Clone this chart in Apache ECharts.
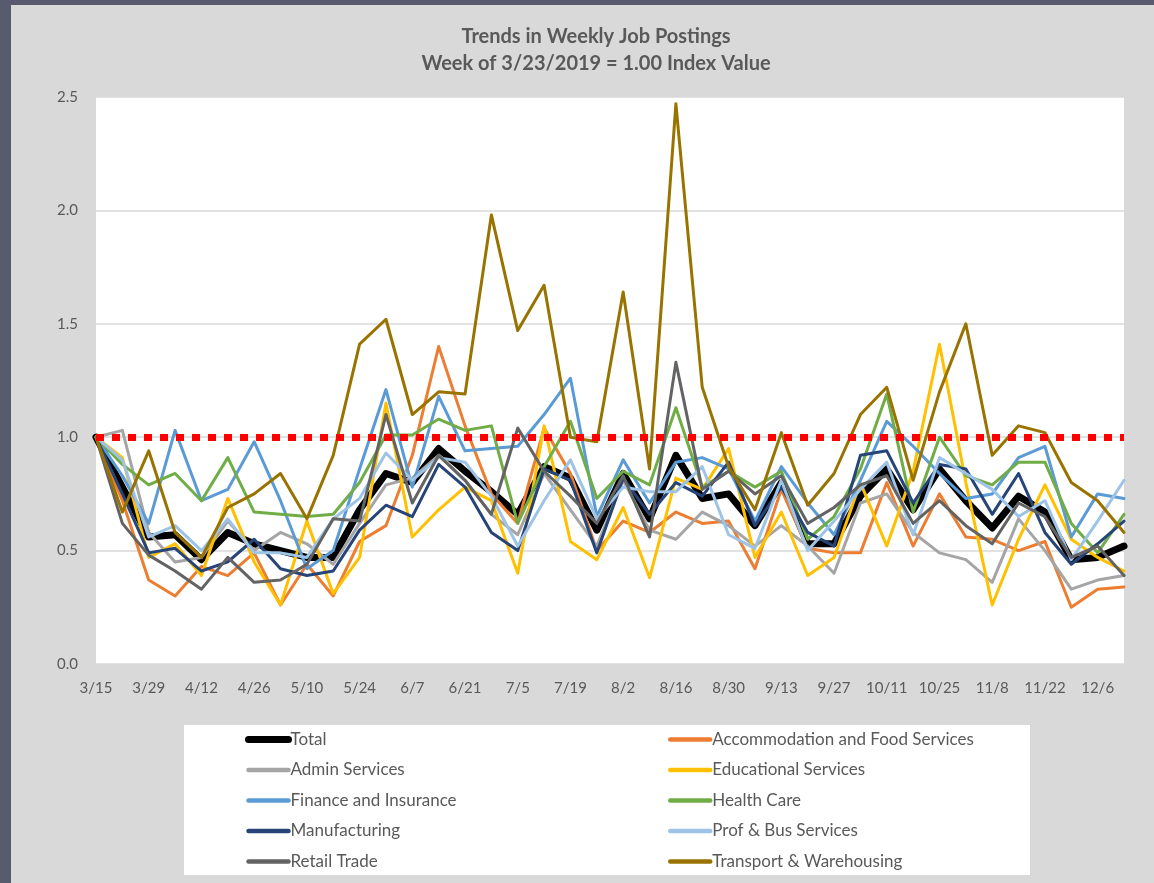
<!DOCTYPE html>
<html>
<head>
<meta charset="utf-8">
<title>Trends in Weekly Job Postings</title>
<script src="https://cdn.jsdelivr.net/npm/echarts@6/dist/echarts.min.js"></script>
<style>
  html, body { margin: 0; padding: 0; background: #d9d9d9; }
  #chart { width: 1154px; height: 883px; }
</style>
</head>
<body>
<div id="chart"></div>
<script>
// weekly categories (labels shown every other week)
const weeks = ['3/15', '3/22', '3/29', '4/5', '4/12', '4/19', '4/26', '5/3', '5/10', '5/17',
  '5/24', '5/31', '6/7', '6/14', '6/21', '6/28', '7/5', '7/12', '7/19', '7/26',
  '8/2', '8/9', '8/16', '8/23', '8/30', '9/6', '9/13', '9/20', '9/27', '10/4',
  '10/11', '10/18', '10/25', '11/1', '11/8', '11/15', '11/22', '11/29', '12/6', '12/13'];

const total = [1.0, 0.78, 0.56, 0.57, 0.46, 0.58, 0.53, 0.50, 0.47, 0.47,
  0.68, 0.84, 0.80, 0.95, 0.85, 0.76, 0.66, 0.87, 0.82, 0.59,
  0.84, 0.64, 0.92, 0.73, 0.75, 0.61, 0.80, 0.53, 0.53, 0.74,
  0.86, 0.68, 0.86, 0.72, 0.60, 0.74, 0.67, 0.46, 0.47, 0.52];
const accommodation = [1.0, 0.72, 0.37, 0.30, 0.43, 0.39, 0.49, 0.26, 0.44, 0.30,
  0.54, 0.61, 0.92, 1.40, 1.05, 0.75, 0.62, 1.04, 0.84, 0.50,
  0.63, 0.58, 0.67, 0.62, 0.63, 0.42, 0.77, 0.51, 0.49, 0.49,
  0.80, 0.52, 0.75, 0.56, 0.55, 0.50, 0.54, 0.25, 0.33, 0.34];
const admin = [1.0, 1.03, 0.58, 0.45, 0.47, 0.63, 0.50, 0.58, 0.53, 0.44,
  0.62, 0.79, 0.82, 0.92, 0.81, 0.66, 0.57, 0.84, 0.68, 0.52,
  0.81, 0.59, 0.55, 0.67, 0.61, 0.52, 0.61, 0.52, 0.40, 0.71,
  0.75, 0.58, 0.49, 0.46, 0.36, 0.64, 0.50, 0.33, 0.37, 0.39];
const educational = [1.0, 0.91, 0.47, 0.53, 0.39, 0.73, 0.45, 0.26, 0.63, 0.31,
  0.47, 1.15, 0.56, 0.68, 0.78, 0.72, 0.40, 1.05, 0.54, 0.46,
  0.69, 0.38, 0.82, 0.77, 0.95, 0.47, 0.67, 0.39, 0.47, 0.80,
  0.52, 0.85, 1.41, 0.80, 0.26, 0.55, 0.79, 0.55, 0.47, 0.41];
const finance = [1.0, 0.83, 0.62, 1.03, 0.72, 0.77, 0.98, 0.72, 0.42, 0.50,
  0.86, 1.21, 0.78, 1.18, 0.94, 0.95, 0.96, 1.10, 1.26, 0.65,
  0.90, 0.71, 0.89, 0.91, 0.86, 0.63, 0.87, 0.71, 0.57, 0.81,
  1.07, 0.96, 0.84, 0.73, 0.75, 0.91, 0.96, 0.56, 0.75, 0.73];
const health = [1.0, 0.88, 0.79, 0.84, 0.72, 0.91, 0.67, 0.66, 0.65, 0.66,
  0.80, 1.01, 1.01, 1.08, 1.03, 1.05, 0.62, 0.87, 1.07, 0.73,
  0.85, 0.79, 1.13, 0.78, 0.85, 0.78, 0.85, 0.55, 0.65, 0.86,
  1.19, 0.67, 1.00, 0.83, 0.79, 0.89, 0.89, 0.62, 0.49, 0.66];
const manufacturing = [1.0, 0.75, 0.49, 0.51, 0.41, 0.45, 0.55, 0.42, 0.39, 0.41,
  0.59, 0.70, 0.65, 0.88, 0.78, 0.58, 0.50, 0.86, 0.81, 0.49,
  0.82, 0.66, 0.80, 0.74, 0.89, 0.61, 0.78, 0.58, 0.52, 0.92,
  0.94, 0.71, 0.88, 0.86, 0.66, 0.84, 0.58, 0.44, 0.53, 0.63];
const profBus = [1.0, 0.90, 0.56, 0.61, 0.50, 0.64, 0.49, 0.49, 0.47, 0.64,
  0.73, 0.93, 0.81, 0.91, 0.89, 0.74, 0.52, 0.72, 0.90, 0.64,
  0.78, 0.76, 0.76, 0.87, 0.57, 0.51, 0.81, 0.50, 0.63, 0.77,
  0.89, 0.57, 0.91, 0.84, 0.77, 0.65, 0.72, 0.46, 0.63, 0.81];
const retail = [1.0, 0.62, 0.48, 0.41, 0.33, 0.47, 0.36, 0.37, 0.44, 0.64,
  0.63, 1.10, 0.71, 0.92, 0.81, 0.66, 1.04, 0.85, 0.74, 0.62,
  0.83, 0.56, 1.33, 0.77, 0.85, 0.75, 0.83, 0.62, 0.69, 0.79,
  0.83, 0.62, 0.72, 0.61, 0.53, 0.71, 0.65, 0.47, 0.52, 0.39];
const transport = [1.0, 0.67, 0.94, 0.58, 0.47, 0.69, 0.75, 0.84, 0.64, 0.92,
  1.41, 1.52, 1.10, 1.20, 1.19, 1.98, 1.47, 1.67, 1.00, 0.98,
  1.64, 0.86, 2.47, 1.22, 0.87, 0.68, 1.02, 0.70, 0.84, 1.10,
  1.22, 0.81, 1.20, 1.50, 0.92, 1.05, 1.02, 0.80, 0.72, 0.58];

const indexValue = 1.0;
const yTicks = [0, 0.5, 1.0, 1.5, 2.0, 2.5];

const seriesDefs = [
  {name: 'Total', data: total, color: '#000000', width: 7},
  {name: 'Accommodation and Food Services', data: accommodation, color: '#ED7D31', width: 3},
  {name: 'Admin Services', data: admin, color: '#A5A5A5', width: 3},
  {name: 'Educational Services', data: educational, color: '#FFC000', width: 3},
  {name: 'Finance and Insurance', data: finance, color: '#5B9BD5', width: 3},
  {name: 'Health Care', data: health, color: '#70AD47', width: 3},
  {name: 'Manufacturing', data: manufacturing, color: '#264478', width: 3},
  {name: 'Prof & Bus Services', data: profBus, color: '#9DC3E6', width: 3},
  {name: 'Retail Trade', data: retail, color: '#636363', width: 3},
  {name: 'Transport & Warehousing', data: transport, color: '#997300', width: 3},
];

const font = 'Lato, "Liberation Sans", sans-serif';
const gray = '#595959';

const chart = echarts.init(document.getElementById('chart'));

const series = seriesDefs.map(function (s) {
  return {
    name: s.name,
    type: 'line',
    data: s.data,
    symbol: 'none',
    color: s.color,
    lineStyle: {color: s.color, width: s.width, join: 'round', cap: 'round'},
    emphasis: {disabled: true},
  };
});

// red dotted 1.00 reference line, drawn over everything
series.push({
  name: 'index',
  type: 'line',
  data: [],
  z: 10,
  markLine: {
    silent: true,
    symbol: 'none',
    label: {show: false},
    lineStyle: {color: '#FF0000', width: 7, type: [8, 8], cap: 'butt'},
    data: [{yAxis: indexValue}],
  },
});

// legend entries: thicker icon strokes like the original
const legendItem = s => ({name: s.name, lineStyle: {width: s.width === 7 ? 7 : 4.5}});
const legendLeft = seriesDefs.filter((s, i) => i % 2 === 0).map(legendItem);
const legendRight = seriesDefs.filter((s, i) => i % 2 === 1).map(legendItem);

const legendBase = {
  orient: 'vertical',
  top: 731,
  itemWidth: 40,
  itemHeight: 14,
  itemGap: 13.5,
  padding: 0,
  selectedMode: false,
  itemStyle: {opacity: 0},
  lineStyle: {cap: 'round'},
  textStyle: {fontSize: 17, color: gray, fontFamily: font, padding: [0, 0, 0, -3]},
};

chart.setOption({
  animation: false,
  backgroundColor: '#D9D9D9',
  textStyle: {fontFamily: font},
  title: {
    text: 'Trends in Weekly Job Postings\nWeek of 3/23/2019 = 1.00 Index Value',
    left: 591,
    top: 18,
    textAlign: 'center',
    textStyle: {fontSize: 20, fontWeight: 'bold', color: gray, lineHeight: 27, fontFamily: font},
  },
  graphic: [
    {type: 'rect', z: -10, shape: {x: 0, y: 0, width: 1154, height: 5}, style: {fill: '#585A6E'}},
    {type: 'rect', z: -10, shape: {x: 0, y: 0, width: 11, height: 883}, style: {fill: '#585A6E'}},
    {type: 'rect', z: -10, shape: {x: 184, y: 725, width: 846, height: 150}, style: {fill: '#FFFFFF'}},
  ],
  legend: [
    Object.assign({}, legendBase, {left: 245, data: legendLeft}),
    Object.assign({}, legendBase, {left: 668, data: legendRight}),
  ],
  grid: {
    left: 96,
    right: 30,
    top: 97,
    bottom: 219,
    show: true,
    backgroundColor: '#FFFFFF',
    borderWidth: 0,
  },
  xAxis: {
    type: 'category',
    data: weeks,
    boundaryGap: false,
    axisTick: {show: false},
    axisLine: {lineStyle: {color: '#D9D9D9'}},
    axisLabel: {interval: 1, margin: 17, fontSize: 15, color: gray, fontFamily: font},
    splitLine: {show: false},
  },
  yAxis: {
    type: 'value',
    min: yTicks[0],
    max: yTicks[yTicks.length - 1],
    interval: 0.5,
    axisLine: {show: false},
    axisTick: {show: false},
    axisLabel: {margin: 18, fontSize: 15, color: gray, fontFamily: font, formatter: v => v.toFixed(1)},
    splitLine: {lineStyle: {color: '#D9D9D9', width: 1.5}},
  },
  series: series,
});
</script>
</body>
</html>
